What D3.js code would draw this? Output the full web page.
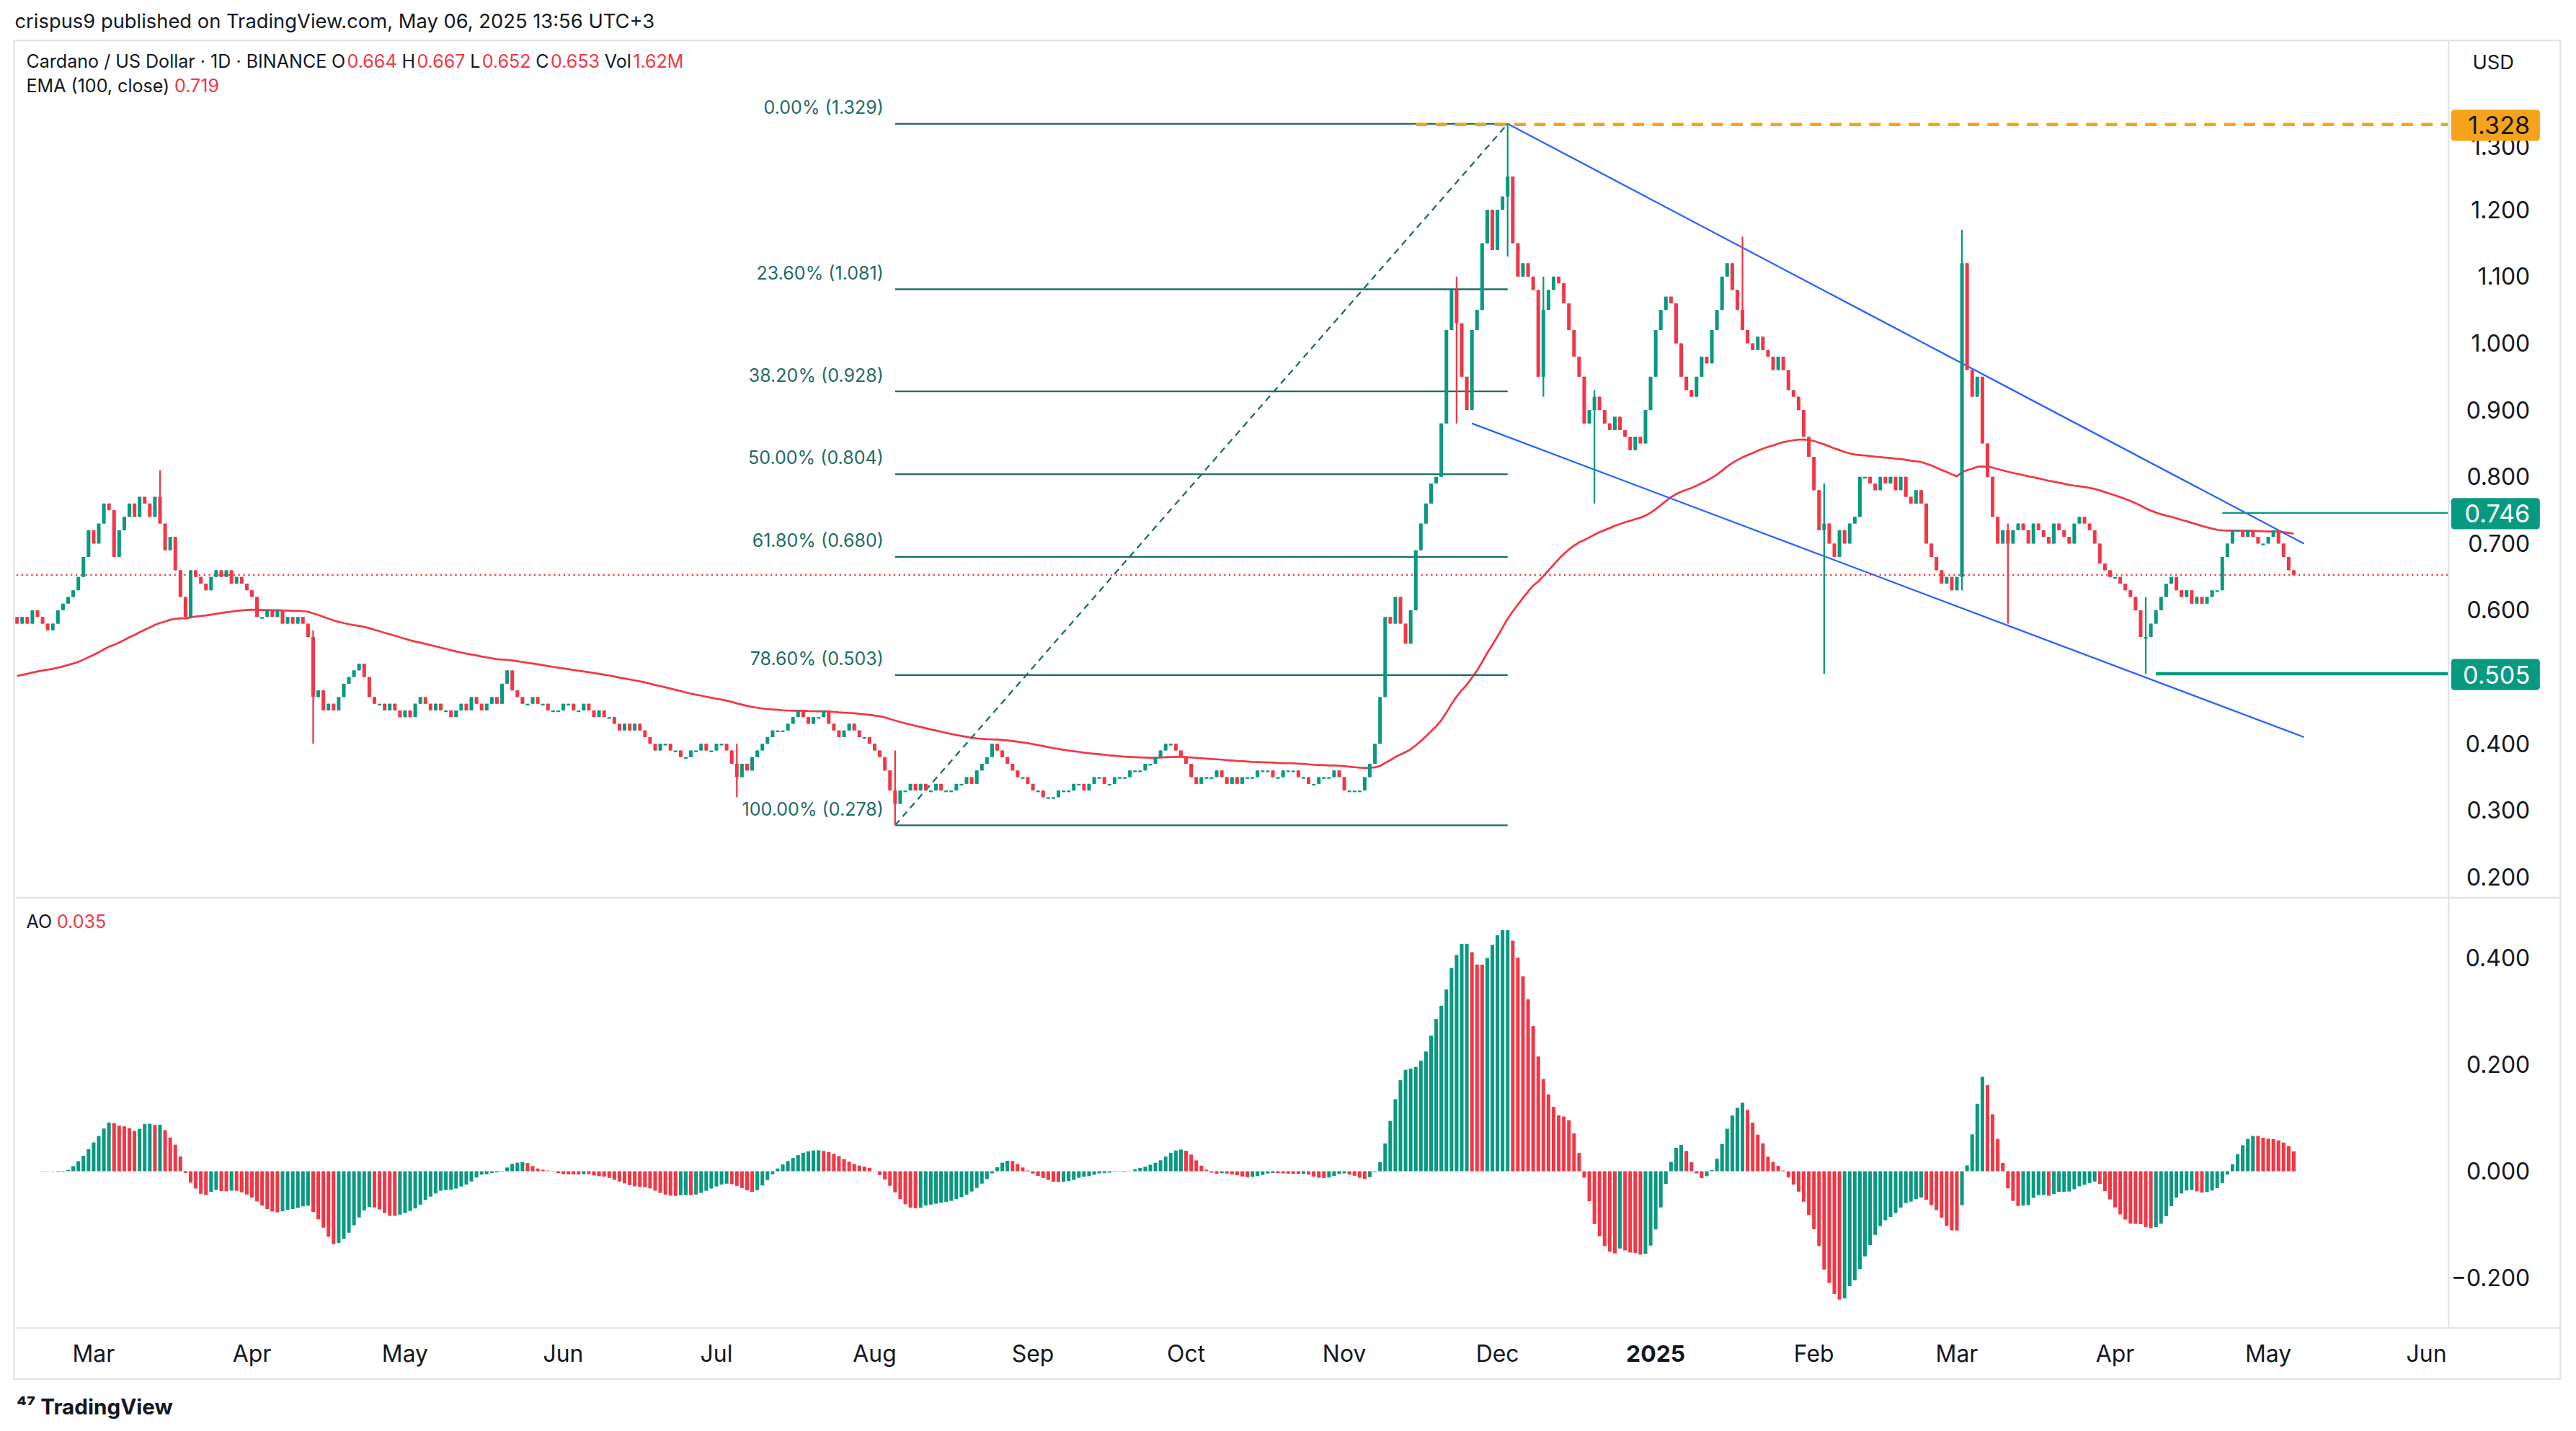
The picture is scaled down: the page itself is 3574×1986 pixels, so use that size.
<!DOCTYPE html>
<html><head><meta charset="utf-8">
<script src="https://cdn.jsdelivr.net/npm/d3@7"></script>
<style>html,body{margin:0;padding:0;background:#fff;}svg{display:block;font-family:"Inter","Roboto",sans-serif;}</style>
</head><body><svg id="c" width="3574" height="1986" viewBox="0 0 1568 871"></svg>
<script>
// Daily closes, Feb 15 2024 .. May 6 2025
const closes2024 = [
 0.58,0.59,0.58,0.60,0.59,0.58,0.57,0.58,0.60,0.61,0.62,0.63,0.65,0.68,0.72,
 0.70,0.73,0.76,0.75,0.68,0.72,0.74,0.76,0.74,0.77,0.76,0.74,0.77,0.73,0.69,0.71,0.66,0.62,0.59,0.66,0.65,0.64,0.63,0.65,0.66,0.65,0.66,0.64,0.65,0.64,0.63,
 0.62,0.59,0.59,0.60,0.59,0.60,0.58,0.59,0.58,0.59,0.58,0.56,0.47,0.48,0.45,0.46,0.45,0.47,0.49,0.50,0.51,0.52,0.50,0.47,0.46,0.46,0.45,0.46,0.45,0.44,
 0.45,0.44,0.46,0.47,0.46,0.45,0.46,0.45,0.45,0.44,0.45,0.46,0.45,0.47,0.46,0.45,0.46,0.47,0.46,0.49,0.51,0.48,0.47,0.46,0.46,0.47,0.46,0.46,0.45,0.45,0.45,
 0.46,0.46,0.45,0.45,0.46,0.45,0.44,0.45,0.44,0.44,0.43,0.42,0.43,0.42,0.43,0.42,0.41,0.40,0.39,0.40,0.40,0.39,0.39,0.38,0.38,0.39,0.39,0.40,0.39,0.39,
 0.40,0.40,0.39,0.37,0.35,0.37,0.36,0.38,0.39,0.40,0.41,0.42,0.42,0.42,0.43,0.44,0.45,0.44,0.43,0.44,0.44,0.45,0.43,0.42,0.41,0.42,0.43,0.42,0.41,0.41,0.40,
 0.39,0.38,0.36,0.33,0.31,0.33,0.33,0.34,0.33,0.34,0.33,0.33,0.34,0.33,0.33,0.33,0.34,0.34,0.35,0.34,0.36,0.37,0.38,0.40,0.39,0.38,0.37,0.36,0.35,0.35,0.34,
 0.33,0.33,0.32,0.32,0.32,0.33,0.33,0.33,0.34,0.34,0.33,0.34,0.35,0.35,0.34,0.34,0.35,0.35,0.35,0.36,0.36,0.36,0.37,0.37,0.38,0.39,0.40,0.40,0.39,0.38,
 0.37,0.35,0.34,0.35,0.35,0.35,0.36,0.35,0.34,0.35,0.34,0.35,0.35,0.35,0.36,0.36,0.36,0.35,0.35,0.36,0.36,0.36,0.35,0.35,0.34,0.34,0.35,0.35,0.35,0.36,0.35,
 0.33,0.33,0.33,0.33,0.35,0.37,0.40,0.47,0.59,0.58,0.62,0.58,0.55,0.60,0.69,0.73,0.76,0.79,0.80,0.88,1.02,1.08,1.03,0.95,0.90,1.02,1.05,1.15,1.20,1.14,
 1.20,1.22,1.25,1.15,1.10,1.12,1.10,1.08,0.95,1.05,1.08,1.10,1.09,1.06,1.02,0.98,0.95,0.88,0.90,0.92,0.90,0.88,0.87,0.89,0.87,0.86,0.84,0.86,0.85,0.90,0.95];
const closes2025 = [
 1.02,1.05,1.07,1.06,1.00,0.95,0.93,0.92,0.95,0.98,0.97,1.02,1.05,1.10,1.12,1.08,1.05,1.02,1.00,0.99,1.01,0.99,0.98,0.96,0.98,0.96,0.93,0.92,0.90,0.86,0.83,
 0.78,0.72,0.73,0.70,0.68,0.72,0.70,0.73,0.74,0.80,0.80,0.79,0.78,0.80,0.79,0.80,0.78,0.80,0.77,0.76,0.78,0.76,0.70,0.68,0.66,0.64,0.65,0.63,
 0.65,1.12,0.96,0.92,0.95,0.85,0.80,0.74,0.70,0.72,0.70,0.72,0.73,0.72,0.70,0.73,0.72,0.71,0.70,0.73,0.72,0.71,0.70,0.73,0.74,0.73,0.72,0.70,0.67,0.66,0.65,
 0.65,0.64,0.63,0.62,0.60,0.56,0.56,0.58,0.60,0.62,0.64,0.65,0.63,0.62,0.63,0.61,0.62,0.61,0.62,0.63,0.63,0.68,0.70,0.72,0.72,0.71,0.72,0.71,0.70,0.70,
 0.71,0.72,0.70,0.68,0.66,0.653];
const firstOpen = 0.59;
const wickDates = ["2024-03-14","2024-04-13","2024-07-05","2024-08-05","2024-12-03","2024-12-10","2024-12-20","2025-01-18","2025-02-03","2025-03-02","2025-03-11","2025-04-07","2024-11-23"];
const wickHighs = [0.81,0.57,0.40,0.39,1.329,1.10,0.93,1.16,0.79,1.17,0.73,0.62,1.10];
const wickLows  = [0.73,0.40,0.32,0.278,1.13,0.92,0.76,1.04,0.505,0.63,0.58,0.505,0.88];
const fibLabels = ["0.00% (1.329)","23.60% (1.081)","38.20% (0.928)","50.00% (0.804)","61.80% (0.680)","78.60% (0.503)","100.00% (0.278)"];
const fibValues = [1.329,1.081,0.928,0.804,0.680,0.503,0.278];
const priceTicks = [0.2,0.3,0.4,0.5,0.6,0.7,0.8,0.9,1.0,1.1,1.2,1.3];
const aoTicks = [-0.2,0,0.2,0.4];
const emaSeed = 0.50;

const svg = d3.select("#c");
const G="#089981", R="#F23645", TXT="#131722";
const parse=d3.utcParse("%Y-%m-%d");
const start=parse("2024-02-15");
const closes=closes2024.concat(closes2025);
const data=closes.map((c,i)=>{const d=d3.utcDay.offset(start,i);const o=i?closes[i-1]:firstOpen;return {d,o,c,h:Math.max(o,c),l:Math.min(o,c)};});
wickDates.forEach((ds,k)=>{const d=parse(ds);const r=data.find(e=>+e.d==+d);if(r){r.h=Math.max(r.h,wickHighs[k]);r.l=Math.min(r.l,wickLows[k]);}});

const x=d3.scaleUtc().domain([parse("2024-03-01"),parse("2025-06-01")]).range([57,1477]);
const y=d3.scaleLinear().domain([0.2,1.3]).range([534,87]);
const ya=d3.scaleLinear().domain([-0.2,0.4]).range([778,583]);
const cw=2.2;

svg.append("line").attr("x1",10).attr("x2",1558).attr("y1",546.5).attr("y2",546.5).attr("stroke","#e0e3eb");
svg.append("line").attr("x1",10).attr("x2",1558).attr("y1",808.5).attr("y2",808.5).attr("stroke","#e0e3eb");
svg.append("line").attr("x1",1490.5).attr("x2",1490.5).attr("y1",25).attr("y2",808).attr("stroke","#e0e3eb");
svg.append("rect").attr("x",8.5).attr("y",24.5).attr("width",1550).attr("height",815).attr("fill","none").attr("stroke","#e0e3eb");

let e=emaSeed;const k=2/101;
const ema=data.map(r=>{e=r.c*k+e*(1-k);return {d:r.d,v:e};});
svg.append("path").datum(ema).attr("fill","none").attr("stroke",R).attr("stroke-width",1.2)
 .attr("d",d3.line().x(p=>x(p.d)).y(p=>y(p.v)));

const fx1=x(parse("2024-08-05")), fx2=x(parse("2024-12-03"));
fibValues.forEach((v,i)=>{
 svg.append("line").attr("x1",fx1).attr("x2",fx2).attr("y1",y(v)).attr("y2",y(v)).attr("stroke","#1e6b64").attr("stroke-width",1);
 svg.append("text").attr("x",fx1-7).attr("y",y(v)-6).attr("text-anchor","end").attr("font-size",11).attr("fill","#1e6b64").text(fibLabels[i]);
});
svg.append("line").attr("x1",fx1).attr("y1",y(0.278)).attr("x2",fx2).attr("y2",y(1.329)).attr("stroke","#1e6b64").attr("stroke-dasharray","4,3");
svg.append("line").attr("x1",x(parse("2024-11-15"))).attr("x2",1490).attr("y1",y(1.328)).attr("y2",y(1.328)).attr("stroke","#f7a21b").attr("stroke-width",2).attr("stroke-dasharray","7,5");
const ch=(a,b,c,dd)=>svg.append("line").attr("x1",x(parse(a))).attr("y1",y(b)).attr("x2",x(parse(c))).attr("y2",y(dd)).attr("stroke","#2962ff").attr("stroke-width",1);
ch("2024-12-03",1.329,"2025-05-08",0.70);
ch("2024-11-26",0.88,"2025-05-08",0.41);
svg.append("line").attr("x1",x(parse("2025-04-22"))).attr("x2",1490).attr("y1",y(0.746)).attr("y2",y(0.746)).attr("stroke",G);
svg.append("line").attr("x1",x(parse("2025-04-09"))).attr("x2",1490).attr("y1",y(0.505)).attr("y2",y(0.505)).attr("stroke",G).attr("stroke-width",2);
svg.append("line").attr("x1",10).attr("x2",1490).attr("y1",y(0.653)).attr("y2",y(0.653)).attr("stroke",R).attr("stroke-dasharray","1,2");

const cg=svg.append("g");
data.forEach(r=>{const col=r.c>=r.o?G:R;const cx=x(r.d);
 cg.append("line").attr("x1",cx).attr("x2",cx).attr("y1",y(r.h)).attr("y2",y(r.l)).attr("stroke",col).attr("stroke-width",1);
 const t=y(Math.max(r.o,r.c)),b=y(Math.min(r.o,r.c));
 cg.append("rect").attr("x",cx-cw/2).attr("y",t).attr("width",cw).attr("height",Math.max(1,b-t)).attr("fill",col);});

const med=data.map(r=>(r.h+r.l)/2);
const sma=(n,i)=>{const s=Math.max(0,i-n+1);return d3.mean(med.slice(s,i+1));};
const ao=data.map((r,i)=>({d:r.d,v:sma(5,i)-sma(34,i)}));
ao.forEach((p,i)=>{const col=(i==0||p.v>=ao[i-1].v)?G:R;
 svg.append("rect").attr("x",x(p.d)-1.1).attr("y",Math.min(ya(0),ya(p.v))).attr("width",2.2).attr("height",Math.abs(ya(p.v)-ya(0))).attr("fill",col);});

priceTicks.forEach(v=>{ if(v===1.3) return; svg.append("text").attr("x",1540).attr("y",y(v)+5).attr("text-anchor","end").attr("font-size",14).attr("fill",TXT).text(v.toFixed(3));});
svg.append("text").attr("x",1540).attr("y",y(1.3)+7).attr("text-anchor","end").attr("font-size",14).attr("fill",TXT).text("1.300");
aoTicks.forEach(v=>svg.append("text").attr("x",1540).attr("y",ya(v)+5).attr("text-anchor","end").attr("font-size",14).attr("fill",TXT).text(v===0?"0.000":(v<0?"−":"")+Math.abs(v).toFixed(3)));
svg.append("text").attr("x",1505).attr("y",42).attr("font-size",12).attr("fill",TXT).text("USD");
const box=(v,col,txt)=>{svg.append("rect").attr("x",1492).attr("y",y(v)-9).attr("width",54).attr("height",19).attr("rx",2).attr("fill",col);
 svg.append("text").attr("x",1540).attr("y",y(v)+6).attr("text-anchor","end").attr("font-size",15).attr("fill",col=="#f7a21b"?TXT:"#fff").text(txt);};
box(1.328,"#f7a21b","1.328");box(0.746,G,"0.746");box(0.505,G,"0.505");

const months=d3.utcMonth.range(parse("2024-03-01"),parse("2025-06-02"));
months.forEach(m=>{const yr=m.getUTCMonth()==0;
 svg.append("text").attr("x",x(m)).attr("y",829).attr("text-anchor","middle").attr("font-size",14).attr("font-weight",yr?700:400).attr("fill",TXT)
  .text(yr?"2025":d3.utcFormat("%b")(m));});

svg.append("text").attr("x",9).attr("y",17).attr("font-size",12).attr("fill",TXT).text("crispus9 published on TradingView.com, May 06, 2025 13:56 UTC+3");
// legend as separate pieces
function legend(yy,parts){let xx=16;parts.forEach(([t,c])=>{const el=svg.append("text").attr("x",xx).attr("y",yy).attr("font-size",11).attr("fill",c).text(t);xx+=el.node().getComputedTextLength()+(t.endsWith(" ")?3:1);});}
legend(41,[["Cardano / US Dollar · 1D · BINANCE ",TXT],["O",TXT],["0.664 ",R],["H",TXT],["0.667 ",R],["L",TXT],["0.652 ",R],["C",TXT],["0.653 ",R],["Vol",TXT],["1.62M",R]]);
legend(56,[["EMA (100, close) ",TXT],["0.719",R]]);
legend(565,[["AO ",TXT],["0.035",R]]);
svg.append("text").attr("x",10).attr("y",861).attr("font-size",13).attr("font-weight",700).attr("fill",TXT).text("⁴⁷ TradingView");
</script></body></html>
